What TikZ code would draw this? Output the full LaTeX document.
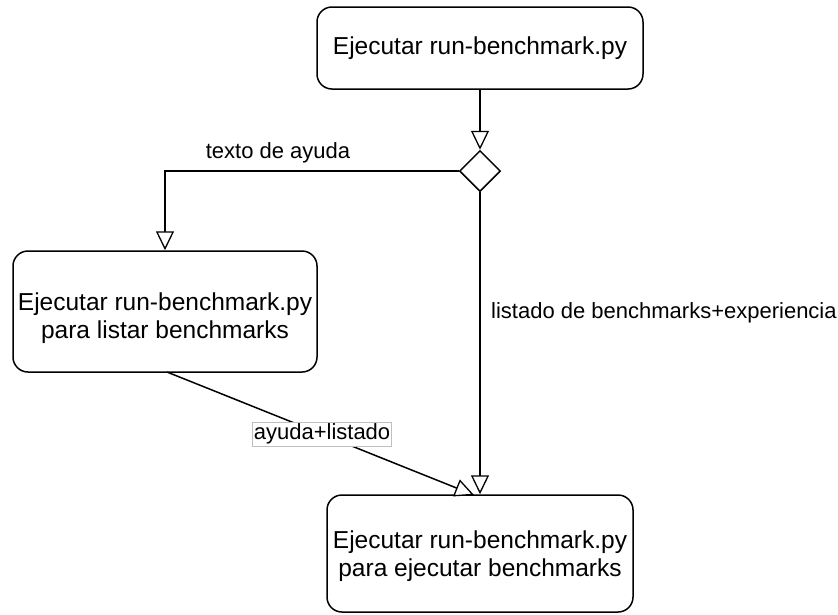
\documentclass[tikz,border=0pt]{standalone}
\usepackage{fontspec}
\setmainfont{Liberation Sans}
\usetikzlibrary{shapes.geometric,arrows.meta,calc}
\begin{document}
\begin{tikzpicture}[x=1pt,y=-1pt,
  every node/.style={font=\fontsize{24.5}{28}\selectfont},
  box/.style={draw, line width=1.5pt, rounded corners=15pt, inner sep=0pt},
  lbl/.style={font=\fontsize{22}{26}\selectfont, inner sep=1pt},
  conn/.style={draw, line width=1.5pt, -{Triangle[length=19pt,width=18pt,fill=white,line width=1.3pt]}},
  plain/.style={draw, line width=1.5pt}]
\useasboundingbox (0,0) rectangle (838,614);
\node[box, minimum width=326pt, minimum height=82pt] (top) at (480,48) {Ejecutar run-benchmark.py};
\node[draw, line width=1.5pt, diamond, minimum width=41pt, minimum height=41pt, inner sep=0pt, aspect=1] (dia) at (480,171) {};
\node[box, minimum width=304pt, minimum height=121pt] (left) at (165,311.5) {};
\node[align=center, inner sep=0pt] (lefttext) at (165,318.5) {Ejecutar run-benchmark.py\\para listar benchmarks};
\node[box, minimum width=306pt, minimum height=117pt] (bot) at (480,553.5) {};
\node[align=center, inner sep=0pt] (bottext) at (480,556) {Ejecutar run-benchmark.py\\para ejecutar benchmarks};
\coordinate (lstart) at (167,372);
\coordinate (dtip) at (474,495);
\draw[conn] (top.south) -- (dia.north);
\draw[conn] (dia.west) -| (left.north);
\draw[conn] (dia.south) -- (bot.north);
\draw[conn] (lstart) -- (dtip) node[pos=0.505, lbl, fill=white, draw=black!25, line width=0.6pt, inner sep=1.5pt] (lab3) {ayuda+listado};
\node[lbl] (lab1) at (278,153) {texto de ayuda};
\node[lbl, anchor=west] (lab2) at (490,313) {listado de benchmarks+experiencia};
\end{tikzpicture}
\end{document}
